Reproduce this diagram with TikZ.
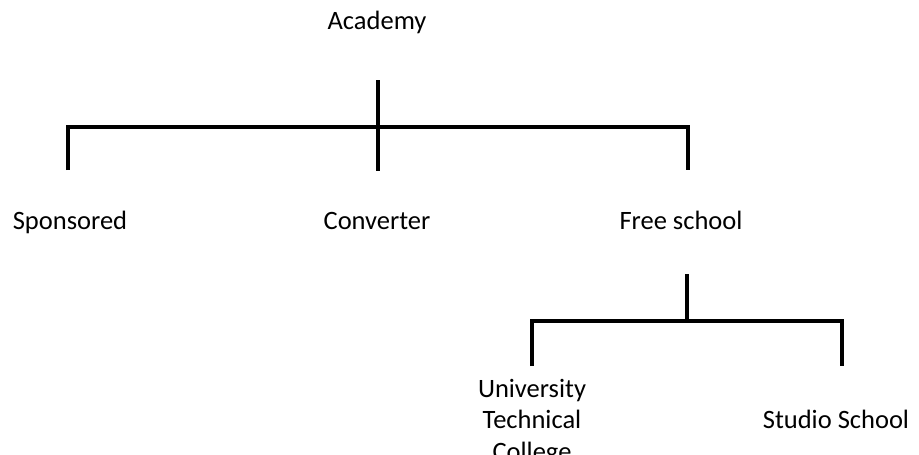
\documentclass[tikz,border=0pt]{standalone}
\usepackage{fontspec}
\setmainfont{Carlito}
\usetikzlibrary{positioning}

\begin{document}
\begin{tikzpicture}[x=1pt,y=-1pt,
    tree/.style={line width=4.5pt, line join=miter},
    lbl/.style={font=\fontsize{26.5}{31.5}\selectfont, inner sep=0pt, anchor=base, align=center}]
        \useasboundingbox (0,0) rectangle (919,455);

        \node[lbl] (academy) at (377,29) {Academy};
        \node[lbl] (sponsored) at (70,229) {Sponsored};
        \node[lbl] (converter) at (377,229) {Converter};
        \node[lbl] (free) at (681,229) {Free school};
        \node[lbl] (utc) at (532,460) {University\\Technical\\College};
        \node[lbl] (studio) at (836,428) {Studio School};

        \coordinate (A) at (378,80);
        \coordinate (B) at (378,171);
        \coordinate (C) at (68,127);
        \coordinate (D) at (688,127);
        \coordinate (E) at (687,274);
        \coordinate (F) at (687,321);
        \coordinate (G) at (532,321);
        \coordinate (H) at (842,321);

        \draw[tree] (A) -- (B);
        \draw[tree] (C) ++(0,43) -- (C) -- (D) -- ++(0,43);
        \draw[tree] (E) -- (F);
        \draw[tree] (G) ++(0,45) -- (G) -- (H) -- ++(0,45);
    \end{tikzpicture}
\end{document}
